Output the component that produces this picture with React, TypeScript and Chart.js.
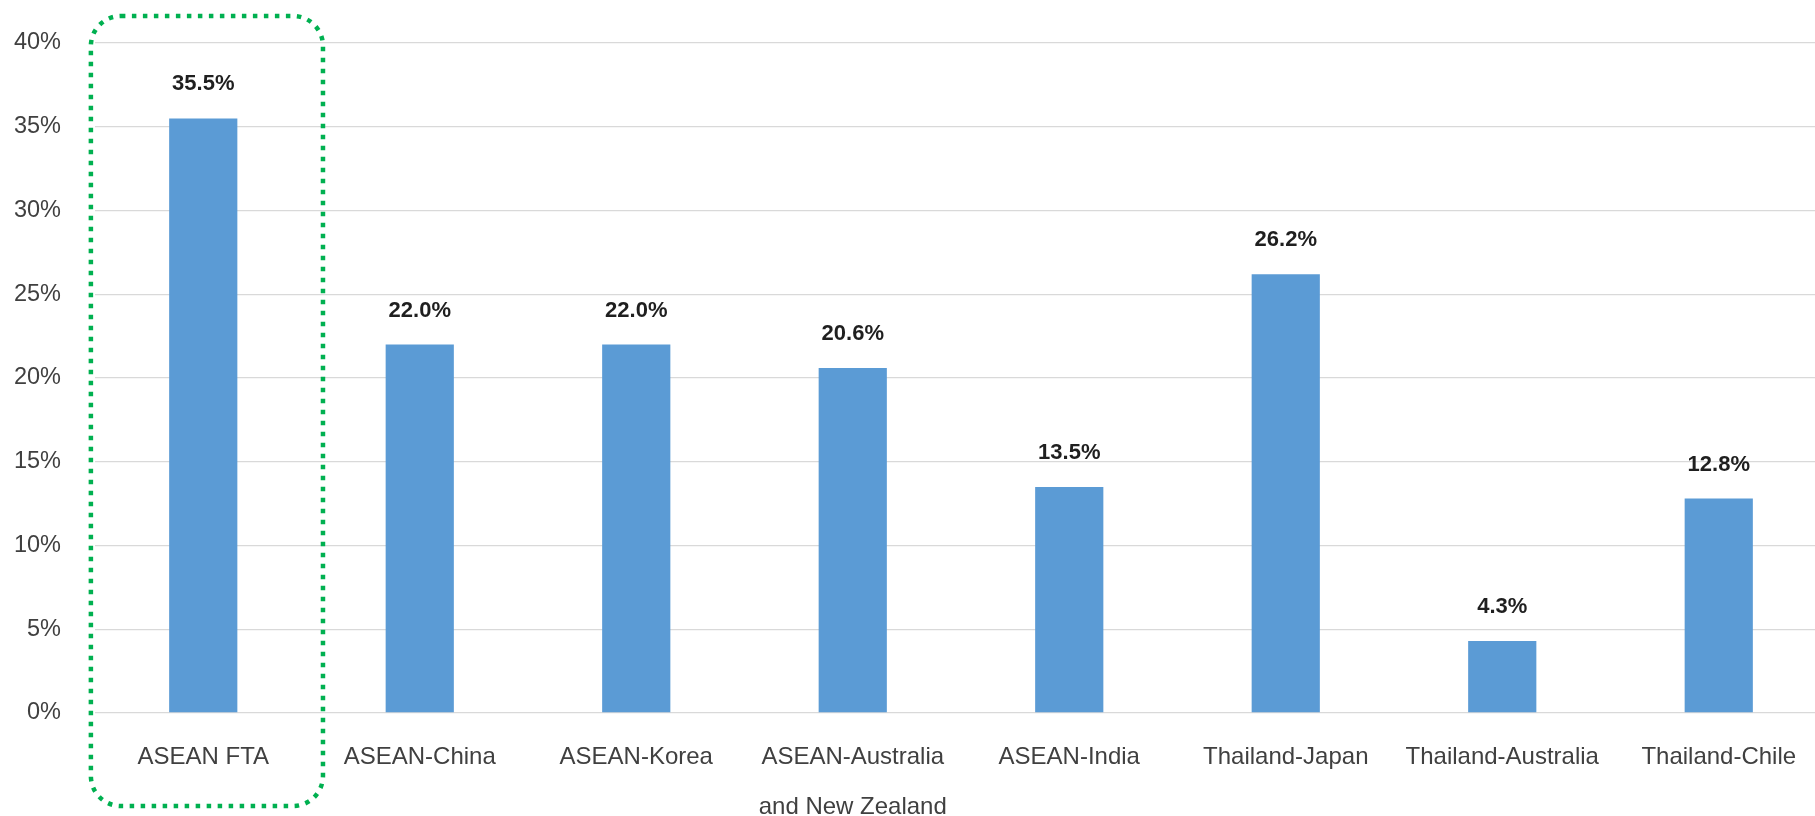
import React, { useEffect, useRef } from "react";
import { Chart, registerables } from "chart.js";

Chart.register(...registerables);

const categories: (string | string[])[] = [
  "ASEAN FTA",
  "ASEAN-China",
  "ASEAN-Korea",
  ["ASEAN-Australia", "and New Zealand"],
  "ASEAN-India",
  "Thailand-Japan",
  "Thailand-Australia",
  "Thailand-Chile",
];
const values: number[] = [35.5, 22.0, 22.0, 20.6, 13.5, 26.2, 4.3, 12.8];
const yTickMin = 0;
const yTickMax = 40;
const yTickStep = 5;
const highlightIndex = 0;

const FONT = "'Liberation Sans', Arial, sans-serif";

const dataLabelPlugin = {
  id: "dataLabels",
  afterDatasetsDraw(chart: any) {
    const ctx = chart.ctx;
    const meta = chart.getDatasetMeta(0);
    ctx.save();
    ctx.font = `bold 22px ${FONT}`;
    ctx.fillStyle = "#1f1f1f";
    ctx.textAlign = "center";
    ctx.textBaseline = "alphabetic";
    meta.data.forEach((bar: any, i: number) => {
      const v = chart.data.datasets[0].data[i] as number;
      ctx.fillText(v.toFixed(1) + "%", bar.x, bar.y - 28);
    });
    ctx.restore();
  },
};

const highlightPlugin = {
  id: "highlightBox",
  afterDraw(chart: any) {
    const ctx = chart.ctx;
    const xs = chart.scales.x;
    const area = chart.chartArea;
    const c = xs.getPixelForValue(highlightIndex);
    const w = (area.right - area.left) / categories.length;
    const left = c - 0.519 * w;
    const right = c + 0.553 * w;
    const top = area.top - 27;
    const bottom = area.bottom + 93;
    ctx.save();
    ctx.strokeStyle = "#00B050";
    ctx.lineWidth = 4.5;
    ctx.setLineDash([4.5, 6.5]);
    ctx.beginPath();
    (ctx as any).roundRect(left, top, right - left, bottom - top, 30);
    ctx.stroke();
    ctx.restore();
  },
};

export default function App() {
  const ref = useRef<HTMLCanvasElement | null>(null);
  useEffect(() => {
    if (!ref.current) return;
    const chart = new Chart(ref.current, {
      type: "bar",
      data: {
        labels: categories,
        datasets: [
          {
            data: values,
            backgroundColor: "#5B9BD5",
            borderWidth: 0,
            barPercentage: 0.63,
            categoryPercentage: 0.5,
          },
        ],
      },
      options: {
        responsive: false,
        animation: false,
        devicePixelRatio: 1,
        layout: { padding: { top: 43, left: 0, right: 0, bottom: 0 } },
        plugins: {
          legend: { display: false },
          tooltip: { enabled: false },
          title: { display: false },
        },
        scales: {
          x: {
            grid: { display: false, drawTicks: false },
            border: { display: false },
            ticks: {
              autoSkip: false,
              maxRotation: 0,
              minRotation: 0,
              padding: 19,
              color: "#404040",
              font: { family: FONT, size: 24, lineHeight: 2.08 },
            },
            afterFit(scale: any) {
              scale.height = 103;
            },
          },
          y: {
            min: yTickMin,
            max: yTickMax,
            grid: { color: "#D9D9D9", lineWidth: 1.3, drawTicks: false },
            border: { display: false },
            ticks: {
              stepSize: yTickStep,
              padding: 34,
              color: "#404040",
              font: { family: FONT, size: 23.5 },
              callback: (v: any) => v + "%",
            },
            afterFit(scale: any) {
              scale.width = 95;
              scale.paddingTop = 0;
              scale.paddingBottom = 0;
            },
          },
        },
      },
      plugins: [dataLabelPlugin, highlightPlugin],
    });
    return () => chart.destroy();
  }, []);

  return (
    <div style={{ position: "fixed", left: 0, top: 0, right: 0, bottom: 0, overflow: "hidden", background: "#fff" }}>
      <canvas ref={ref} width={1827} height={816} style={{ display: "block" }} />
    </div>
  );
}
